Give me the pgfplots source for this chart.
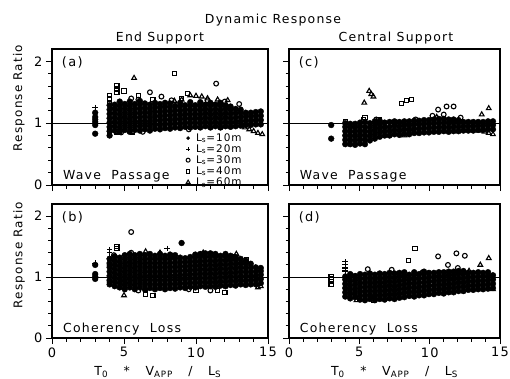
\documentclass[border=0pt]{standalone}
\usepackage{fontspec}
\setmainfont{DejaVu Sans}[LetterSpace=10]
\usepackage{pgfplots}
\pgfplotsset{compat=1.18}
\pgfplotsset{
  panel/.style={
    scale only axis, width=216bp,
    xmin=0, xmax=15, ymin=0, ymax=2.2,
    xtick={0,5,10,15}, minor xtick={1,2,3,4,6,7,8,9,11,12,13,14},
    ytick={0,1,2}, minor ytick={0.2,0.4,0.6,0.8,1.2,1.4,1.6,1.8},
    tick align=outside, xtick pos=bottom, ytick pos=left,
    major tick length=6bp, minor tick length=3.5bp,
    axis line style={line width=1.2bp},
    every tick/.style={black, line width=0.9bp},
    tick label style={font=\fontsize{13}{13}\selectfont},
    /pgf/number format/assume math mode=true,
    clip=false,
  },
  s10/.style={only marks, mark=*, mark size=2.9bp, black, forget plot},
  s20/.style={only marks, mark=+, mark size=2.8bp, black, line width=1.1bp, forget plot},
  s30/.style={only marks, mark=o, mark size=2.4bp, black, line width=1.1bp, mark options={fill=white}, forget plot},
  s40/.style={only marks, mark=square, mark size=2.2bp, black, line width=1.1bp, mark options={fill=white}, forget plot},
  s60/.style={only marks, mark=triangle, mark size=2.7bp, black, line width=1.1bp, mark options={fill=white}, forget plot},
  refline/.style={black, line width=0.9bp, forget plot},
}
\newcommand{\paneltext}[2]{\node[anchor=north west, font=\fontsize{13}{13}\selectfont] at (rel axis cs:0.03,0.97) {#1};
  \node[anchor=base west, font=\fontsize{12.5}{12.5}\selectfont] at (rel axis cs:0.035,0.04) {#2};}
\begin{document}
\begin{tikzpicture}
\path[use as bounding box] (0,0) rectangle (510bp,-379bp);
\node[font=\fontsize{12.5}{12.5}\selectfont] at (273bp,-20bp) {Dynamic Response};
\node[font=\fontsize{12.5}{12.5}\selectfont] at (160bp,-38bp) {End Support};
\node[font=\fontsize{12.5}{12.5}\selectfont] at (396bp,-38bp) {Central Support};

% ---------------- (a) End support, wave passage
\begin{axis}[panel, height=136bp, at={(52bp,-185bp)}, anchor=south west,
  xticklabels={},
  ylabel={Response Ratio},
  ylabel style={at={(rel axis cs:-0.153,0.64)}, anchor=center, font=\fontsize{12}{12}\selectfont},
  legend style={at={(rel axis cs:0.62,-0.03)}, anchor=south west, draw=none, fill=none,
    font=\fontsize{10.5}{10.5}\selectfont, row sep=-2.2bp, inner sep=0pt,
    /tikz/every odd column/.append style={column sep=4bp}},
  legend cell align=left]
\addplot[refline] coordinates {(0,1) (15,1)};
\addplot[s10] coordinates {
(3,.83)(3,.97)(3,1.02)(3,1.06)(3,1.10)(3,1.17)
(4,.80)(4,.87)(4,.94)(4,1.01)(4,1.08)(4,1.15)(4,1.22)(4,1.29)
(4.35,.88)(4.35,.95)(4.35,1.02)(4.35,1.09)(4.35,1.16)(4.35,1.23)(4.35,1.30)
(4.7,.86)(4.7,.93)(4.7,1.00)(4.7,1.07)(4.7,1.14)(4.7,1.21)(4.7,1.28)(4.7,1.35)
(5.05,.89)(5.05,.96)(5.05,1.03)(5.05,1.10)(5.05,1.17)(5.05,1.24)(5.05,1.31)
(5.4,.86)(5.4,.93)(5.4,1.00)(5.4,1.07)(5.4,1.14)(5.4,1.21)(5.4,1.28)(5.4,1.35)
(5.75,.89)(5.75,.96)(5.75,1.03)(5.75,1.10)(5.75,1.17)(5.75,1.24)(5.75,1.31)
(6.1,.88)(6.1,.95)(6.1,1.02)(6.1,1.09)(6.1,1.16)(6.1,1.23)(6.1,1.30)(6.1,1.36)
(6.45,.90)(6.45,.97)(6.45,1.04)(6.45,1.11)(6.45,1.18)(6.45,1.25)(6.45,1.32)
(6.8,.88)(6.8,.95)(6.8,1.02)(6.8,1.09)(6.8,1.16)(6.8,1.23)(6.8,1.30)
(7.15,.91)(7.15,.98)(7.15,1.05)(7.15,1.12)(7.15,1.19)(7.15,1.26)(7.15,1.33)
(7.5,.90)(7.5,.97)(7.5,1.04)(7.5,1.11)(7.5,1.18)(7.5,1.25)(7.5,1.31)
(7.85,.92)(7.85,.99)(7.85,1.06)(7.85,1.13)(7.85,1.20)(7.85,1.27)(7.85,1.33)
(8.2,.91)(8.2,.98)(8.2,1.05)(8.2,1.12)(8.2,1.19)(8.2,1.26)(8.2,1.32)
(8.55,.93)(8.55,1.00)(8.55,1.07)(8.55,1.14)(8.55,1.21)(8.55,1.28)
(8.9,.92)(8.9,.99)(8.9,1.06)(8.9,1.13)(8.9,1.20)(8.9,1.27)(8.9,1.33)
(9.25,.94)(9.25,1.01)(9.25,1.08)(9.25,1.15)(9.25,1.22)(9.25,1.29)
(9.6,.93)(9.6,1.00)(9.6,1.07)(9.6,1.14)(9.6,1.21)(9.6,1.28)(9.6,1.34)
(9.95,.94)(9.95,1.01)(9.95,1.08)(9.95,1.15)(9.95,1.22)(9.95,1.29)
(10.3,.93)(10.3,1.00)(10.3,1.07)(10.3,1.14)(10.3,1.21)(10.3,1.28)(10.3,1.34)
(10.65,.95)(10.65,1.02)(10.65,1.09)(10.65,1.16)(10.65,1.23)(10.65,1.30)
(11,.93)(11,1.00)(11,1.07)(11,1.14)(11,1.21)(11,1.28)(11,1.33)
(11.35,.95)(11.35,1.02)(11.35,1.09)(11.35,1.16)(11.35,1.23)(11.35,1.30)
(11.7,.93)(11.7,1.00)(11.7,1.07)(11.7,1.14)(11.7,1.21)(11.7,1.28)(11.7,1.33)
(12.05,.95)(12.05,1.02)(12.05,1.09)(12.05,1.16)(12.05,1.23)(12.05,1.29)
(12.4,.94)(12.4,1.01)(12.4,1.08)(12.4,1.15)(12.4,1.22)(12.4,1.27)
(12.75,.95)(12.75,1.02)(12.75,1.09)(12.75,1.16)(12.75,1.23)
(13.1,.96)(13.1,1.03)(13.1,1.10)(13.1,1.17)(13.1,1.22)
(13.45,.97)(13.45,1.04)(13.45,1.11)(13.45,1.17)
(13.8,.97)(13.8,1.04)(13.8,1.11)(13.8,1.17)
(14.15,.98)(14.15,1.05)(14.15,1.12)(14.15,1.18)
(14.5,.98)(14.5,1.05)(14.5,1.12)(14.5,1.19)
};
\addplot[s20] coordinates {(3,1.25)(4,1.2)(4.3,1.26)(5.5,1.3)};
\addplot[s30] coordinates {(4.8,.85)(6.8,1.5)(7.6,1.43)(11.4,1.64)(10.8,1.37)(12.0,1.35)(13.0,1.31)(5.5,1.4)(8.3,1.37)(6.3,.86)(9.5,.9)(6.0,1.38)};
\addplot[s40] coordinates {(4.5,1.5)(4.5,1.55)(4.5,1.6)(4.0,1.32)(4.0,1.4)(4.0,1.45)(4.0,.82)(4.0,.87)(5.0,1.52)(6.0,1.45)(8.5,1.8)(9.4,1.48)(9.0,1.4)(7.0,1.38)(5.6,.86)(4.5,.86)};
\addplot[s60] coordinates {(5.7,1.73)(9.6,1.45)(10.0,1.44)(10.4,1.43)(10.8,1.40)(11.5,1.38)(12.2,1.37)(13.4,.93)(13.7,.9)(14.0,.87)(14.3,.84)(14.6,.82)(8.5,1.36)(9.0,1.38)};
\addlegendimage{only marks, mark=*, mark size=1.6bp, black}
\addlegendentry{L\textsubscript{s}=10m}
\addlegendimage{only marks, mark=+, mark size=2bp, black, line width=1bp}
\addlegendentry{L\textsubscript{s}=20m}
\addlegendimage{only marks, mark=o, mark size=2bp, black, line width=1bp}
\addlegendentry{L\textsubscript{s}=30m}
\addlegendimage{only marks, mark=square, mark size=1.8bp, black, line width=1bp}
\addlegendentry{L\textsubscript{s}=40m}
\addlegendimage{only marks, mark=triangle, mark size=2.2bp, black, line width=1bp}
\addlegendentry{L\textsubscript{s}=60m}
\paneltext{(a)}{Wave\ \ Passage}
\end{axis}

% ---------------- (c) Central support, wave passage
\begin{axis}[panel, width=211bp, height=136bp, at={(289bp,-185bp)}, anchor=south west,
  xticklabels={}, yticklabels={}]
\addplot[refline] coordinates {(0,1) (15,1)};
\addplot[s10] coordinates {
(3,.75)(3,.97)
(4,.66)(4,.73)(4,.80)(4,.87)(4,.94)(4,1.00)
(4.35,.66)(4.35,.73)(4.35,.80)(4.35,.87)(4.35,.94)(4.35,.99)
(4.7,.65)(4.7,.72)(4.7,.79)(4.7,.86)(4.7,.93)(4.7,.99)
(5.05,.67)(5.05,.74)(5.05,.81)(5.05,.88)(5.05,.95)(5.05,1.01)
(5.4,.66)(5.4,.73)(5.4,.80)(5.4,.87)(5.4,.94)(5.4,1.02)
(5.75,.72)(5.75,.79)(5.75,.86)(5.75,.93)(5.75,1.00)
(6.1,.75)(6.1,.82)(6.1,.89)(6.1,.96)(6.1,1.03)
(6.45,.78)(6.45,.85)(6.45,.92)(6.45,.99)(6.45,1.04)
(6.8,.80)(6.8,.87)(6.8,.94)(6.8,1.01)
(7.15,.80)(7.15,.87)(7.15,.94)(7.15,1.02)
(7.5,.82)(7.5,.89)(7.5,.96)(7.5,1.03)
(7.85,.81)(7.85,.88)(7.85,.95)(7.85,1.02)
(8.2,.83)(8.2,.90)(8.2,.97)(8.2,1.03)
(8.55,.82)(8.55,.89)(8.55,.96)(8.55,1.03)
(8.9,.84)(8.9,.91)(8.9,.98)(8.9,1.04)
(9.25,.84)(9.25,.91)(9.25,.98)(9.25,1.04)
(9.6,.85)(9.6,.92)(9.6,.99)(9.6,1.05)
(9.95,.85)(9.95,.92)(9.95,.99)(9.95,1.05)
(10.3,.86)(10.3,.93)(10.3,1.00)(10.3,1.06)
(10.65,.86)(10.65,.93)(10.65,1.00)(10.65,1.07)
(11,.87)(11,.94)(11,1.01)(11,1.07)
(11.35,.86)(11.35,.93)(11.35,1.00)(11.35,1.06)
(11.7,.87)(11.7,.94)(11.7,1.01)(11.7,1.06)
(12.05,.87)(12.05,.94)(12.05,1.01)(12.05,1.05)
(12.4,.88)(12.4,.95)(12.4,1.02)
(12.75,.88)(12.75,.95)(12.75,1.02)
(13.1,.88)(13.1,.95)(13.1,1.02)
(13.45,.89)(13.45,.96)(13.45,1.02)
(13.8,.89)(13.8,.96)(13.8,1.02)
(14.15,.90)(14.15,.97)(14.15,1.03)
(14.5,.90)(14.5,.97)(14.5,1.03)
};
\addplot[s30] coordinates {(10.6,1.22)(11.2,1.27)(11.7,1.27)(10.2,1.12)(11.0,1.14)(12.2,1.09)(6.2,1.06)(9.0,1.06)};
\addplot[s40] coordinates {(5.3,1.06)(5.4,1.09)(6.4,1.05)(8.0,1.32)(8.35,1.37)(8.7,1.38)(4.0,1.02)};
\addplot[s60] coordinates {(5.35,1.33)(5.7,1.52)(5.85,1.47)(6.0,1.43)(13.7,1.14)(14.2,1.24)(8.2,.80)(10.5,1.1)(13.5,.88)(13.9,.86)(14.2,.84)(14.5,.82)};
\paneltext{(c)}{Wave\ \ Passage}
\end{axis}

% ---------------- (b) End support, coherency loss
\begin{axis}[panel, height=134bp, at={(52bp,-338bp)}, anchor=south west,
  ylabel={Response Ratio},
  ylabel style={at={(rel axis cs:-0.153,0.62)}, anchor=center, font=\fontsize{12}{12}\selectfont},
  xlabel={T\textsubscript{0}\ \ \ *\ \ \ V\textsubscript{APP}\ \ \ /\ \ \ L\textsubscript{S}},
  xlabel style={at={(rel axis cs:0.49,-0.254)}, anchor=center, font=\fontsize{12.5}{12.5}\selectfont}]
\addplot[refline] coordinates {(0,1) (15,1)};
\addplot[s10] coordinates {
(3,.97)(3,1.01)(3,1.05)(3,1.20)(9.0,1.56)
(4,.88)(4,.95)(4,1.02)(4,1.09)(4,1.16)(4,1.23)(4,1.30)
(4.35,.85)(4.35,.92)(4.35,.99)(4.35,1.06)(4.35,1.13)(4.35,1.20)(4.35,1.27)(4.35,1.34)
(4.7,.83)(4.7,.90)(4.7,.97)(4.7,1.04)(4.7,1.11)(4.7,1.18)(4.7,1.25)(4.7,1.32)
(5.05,.80)(5.05,.87)(5.05,.94)(5.05,1.01)(5.05,1.08)(5.05,1.15)(5.05,1.22)(5.05,1.29)(5.05,1.36)
(5.4,.83)(5.4,.90)(5.4,.97)(5.4,1.04)(5.4,1.11)(5.4,1.18)(5.4,1.25)(5.4,1.32)(5.4,1.38)
(5.75,.80)(5.75,.87)(5.75,.94)(5.75,1.01)(5.75,1.08)(5.75,1.15)(5.75,1.22)(5.75,1.29)(5.75,1.36)
(6.1,.83)(6.1,.90)(6.1,.97)(6.1,1.04)(6.1,1.11)(6.1,1.18)(6.1,1.25)(6.1,1.32)(6.1,1.38)
(6.45,.80)(6.45,.87)(6.45,.94)(6.45,1.01)(6.45,1.08)(6.45,1.15)(6.45,1.22)(6.45,1.29)(6.45,1.36)
(6.8,.82)(6.8,.89)(6.8,.96)(6.8,1.03)(6.8,1.10)(6.8,1.17)(6.8,1.24)(6.8,1.31)(6.8,1.38)
(7.15,.80)(7.15,.87)(7.15,.94)(7.15,1.01)(7.15,1.08)(7.15,1.15)(7.15,1.22)(7.15,1.29)(7.15,1.35)
(7.5,.82)(7.5,.89)(7.5,.96)(7.5,1.03)(7.5,1.10)(7.5,1.17)(7.5,1.24)(7.5,1.31)(7.5,1.38)
(7.85,.80)(7.85,.87)(7.85,.94)(7.85,1.01)(7.85,1.08)(7.85,1.15)(7.85,1.22)(7.85,1.29)(7.85,1.35)
(8.2,.82)(8.2,.89)(8.2,.96)(8.2,1.03)(8.2,1.10)(8.2,1.17)(8.2,1.24)(8.2,1.31)(8.2,1.37)
(8.55,.81)(8.55,.88)(8.55,.95)(8.55,1.02)(8.55,1.09)(8.55,1.16)(8.55,1.23)(8.55,1.30)(8.55,1.36)
(8.9,.83)(8.9,.90)(8.9,.97)(8.9,1.04)(8.9,1.11)(8.9,1.18)(8.9,1.25)(8.9,1.32)
(9.25,.82)(9.25,.89)(9.25,.96)(9.25,1.03)(9.25,1.10)(9.25,1.17)(9.25,1.24)(9.25,1.31)
(9.6,.84)(9.6,.91)(9.6,.98)(9.6,1.05)(9.6,1.12)(9.6,1.19)(9.6,1.26)(9.6,1.33)
(9.95,.83)(9.95,.90)(9.95,.97)(9.95,1.04)(9.95,1.11)(9.95,1.18)(9.95,1.25)(9.95,1.32)(9.95,1.37)
(10.3,.85)(10.3,.92)(10.3,.99)(10.3,1.06)(10.3,1.13)(10.3,1.20)(10.3,1.27)(10.3,1.34)(10.3,1.38)
(10.65,.84)(10.65,.91)(10.65,.98)(10.65,1.05)(10.65,1.12)(10.65,1.19)(10.65,1.26)(10.65,1.33)(10.65,1.39)
(11,.85)(11,.92)(11,.99)(11,1.06)(11,1.13)(11,1.20)(11,1.27)(11,1.34)(11,1.39)
(11.35,.84)(11.35,.91)(11.35,.98)(11.35,1.05)(11.35,1.12)(11.35,1.19)(11.35,1.26)(11.35,1.33)(11.35,1.38)
(11.7,.86)(11.7,.93)(11.7,1.00)(11.7,1.07)(11.7,1.14)(11.7,1.21)(11.7,1.28)(11.7,1.35)
(12.05,.85)(12.05,.92)(12.05,.99)(12.05,1.06)(12.05,1.13)(12.05,1.20)(12.05,1.27)(12.05,1.34)(12.05,1.38)
(12.4,.87)(12.4,.94)(12.4,1.01)(12.4,1.08)(12.4,1.15)(12.4,1.22)(12.4,1.29)(12.4,1.35)
(12.75,.86)(12.75,.93)(12.75,1.00)(12.75,1.07)(12.75,1.14)(12.75,1.21)(12.75,1.28)(12.75,1.33)
(13.1,.88)(13.1,.95)(13.1,1.02)(13.1,1.09)(13.1,1.16)(13.1,1.23)(13.1,1.30)
(13.45,.87)(13.45,.94)(13.45,1.01)(13.45,1.08)(13.45,1.15)(13.45,1.22)(13.45,1.27)
(13.8,.88)(13.8,.95)(13.8,1.02)(13.8,1.09)(13.8,1.16)(13.8,1.22)
(14.15,.88)(14.15,.95)(14.15,1.02)(14.15,1.09)(14.15,1.16)
(14.5,.90)(14.5,.97)(14.5,1.04)(14.5,1.10)(14.5,1.15)
};
\addplot[s20] coordinates {(4,1.45)(4,1.40)(8,1.47)(3,1.23)};
\addplot[s30] coordinates {(5.5,1.74)(4.0,1.30)(4.0,1.20)(4.0,.92)(5.5,1.40)(9.5,.80)(11.0,.78)(12.3,1.30)(13.0,1.25)(6.0,.78)(4.3,1.36)};
\addplot[s40] coordinates {(4.5,1.50)(4.5,1.47)(6.5,.72)(7.0,.70)(10.0,.78)(12.0,.75)(11.5,.78)(8.5,1.35)(12.5,1.33)(13.5,1.28)(6.5,.78)};
\addplot[s60] coordinates {(5.0,.70)(7.5,1.40)(6.5,1.42)(14.5,.85)(14.3,.83)(12.8,1.38)(10.5,1.40)};
\paneltext{(b)}{Coherency\ \ Loss}
\end{axis}

% ---------------- (d) Central support, coherency loss
\begin{axis}[panel, width=211bp, height=134bp, at={(289bp,-338bp)}, anchor=south west,
  yticklabels={},
  xlabel={T\textsubscript{0}\ \ \ *\ \ \ V\textsubscript{APP}\ \ \ /\ \ \ L\textsubscript{S}},
  xlabel style={at={(rel axis cs:0.5,-0.254)}, anchor=center, font=\fontsize{12.5}{12.5}\selectfont}]
\addplot[refline] coordinates {(0,1) (15,1)};
\addplot[s10] coordinates {
(4,.68)(4,.75)(4,.82)(4,.89)(4,.96)(4,1.01)
(4.35,.65)(4.35,.72)(4.35,.79)(4.35,.86)(4.35,.93)(4.35,1.00)(4.35,1.05)
(4.7,.67)(4.7,.74)(4.7,.81)(4.7,.88)(4.7,.95)(4.7,1.02)
(5.05,.63)(5.05,.70)(5.05,.77)(5.05,.84)(5.05,.91)(5.05,.98)(5.05,1.05)
(5.4,.62)(5.4,.69)(5.4,.76)(5.4,.83)(5.4,.90)(5.4,.97)(5.4,1.04)
(5.75,.64)(5.75,.71)(5.75,.78)(5.75,.85)(5.75,.92)(5.75,.99)(5.75,1.06)
(6.1,.62)(6.1,.69)(6.1,.76)(6.1,.83)(6.1,.90)(6.1,.97)(6.1,1.04)
(6.45,.64)(6.45,.71)(6.45,.78)(6.45,.85)(6.45,.92)(6.45,.99)(6.45,1.06)
(6.8,.63)(6.8,.70)(6.8,.77)(6.8,.84)(6.8,.91)(6.8,.98)(6.8,1.05)
(7.15,.65)(7.15,.72)(7.15,.79)(7.15,.86)(7.15,.93)(7.15,1.00)(7.15,1.07)
(7.5,.64)(7.5,.71)(7.5,.78)(7.5,.85)(7.5,.92)(7.5,.99)(7.5,1.06)
(7.85,.66)(7.85,.73)(7.85,.80)(7.85,.87)(7.85,.94)(7.85,1.01)(7.85,1.07)
(8.2,.67)(8.2,.74)(8.2,.81)(8.2,.88)(8.2,.95)(8.2,1.02)(8.2,1.08)
(8.55,.69)(8.55,.76)(8.55,.83)(8.55,.90)(8.55,.97)(8.55,1.04)
(8.9,.68)(8.9,.75)(8.9,.82)(8.9,.89)(8.9,.96)(8.9,1.03)(8.9,1.08)
(9.25,.70)(9.25,.77)(9.25,.84)(9.25,.91)(9.25,.98)(9.25,1.05)
(9.6,.70)(9.6,.77)(9.6,.84)(9.6,.91)(9.6,.98)(9.6,1.05)(9.6,1.09)
(9.95,.72)(9.95,.79)(9.95,.86)(9.95,.93)(9.95,1.00)(9.95,1.07)
(10.3,.72)(10.3,.79)(10.3,.86)(10.3,.93)(10.3,1.00)(10.3,1.07)
(10.65,.74)(10.65,.81)(10.65,.88)(10.65,.95)(10.65,1.02)(10.65,1.08)
(11,.73)(11,.80)(11,.87)(11,.94)(11,1.01)(11,1.08)
(11.35,.75)(11.35,.82)(11.35,.89)(11.35,.96)(11.35,1.03)(11.35,1.09)
(11.7,.75)(11.7,.82)(11.7,.89)(11.7,.96)(11.7,1.03)(11.7,1.09)
(12.05,.77)(12.05,.84)(12.05,.91)(12.05,.98)(12.05,1.05)(12.05,1.10)
(12.4,.77)(12.4,.84)(12.4,.91)(12.4,.98)(12.4,1.05)(12.4,1.10)
(12.75,.79)(12.75,.86)(12.75,.93)(12.75,1.00)(12.75,1.07)
(13.1,.79)(13.1,.86)(13.1,.93)(13.1,1.00)(13.1,1.07)
(13.45,.80)(13.45,.87)(13.45,.94)(13.45,1.01)(13.45,1.08)
(13.8,.80)(13.8,.87)(13.8,.94)(13.8,1.01)(13.8,1.07)
(14.15,.81)(14.15,.88)(14.15,.95)(14.15,1.02)(14.15,1.08)
(14.5,.82)(14.5,.89)(14.5,.96)(14.5,1.03)
};
\addplot[s20] coordinates {(4,1.10)(4,1.15)(4,1.20)(4,1.25)};
\addplot[s30] coordinates {(10.6,1.34)(11.9,1.39)(12.5,1.35)(5.6,1.13)(7.3,1.12)(9.5,1.08)(11.3,1.20)(12.0,1.15)};
\addplot[s40] coordinates {(8.95,1.47)(8.5,1.27)(6.0,.62)(5.0,.65)(3,.88)(3,.93)(3,.97)(3,1.0)};
\addplot[s60] coordinates {(14.2,1.31)(13.6,1.20)(12.8,1.10)(14.5,.80)(4.8,.62)};
\paneltext{(d)}{Coherency\ \ Loss}
\end{axis}
\end{tikzpicture}
\end{document}
